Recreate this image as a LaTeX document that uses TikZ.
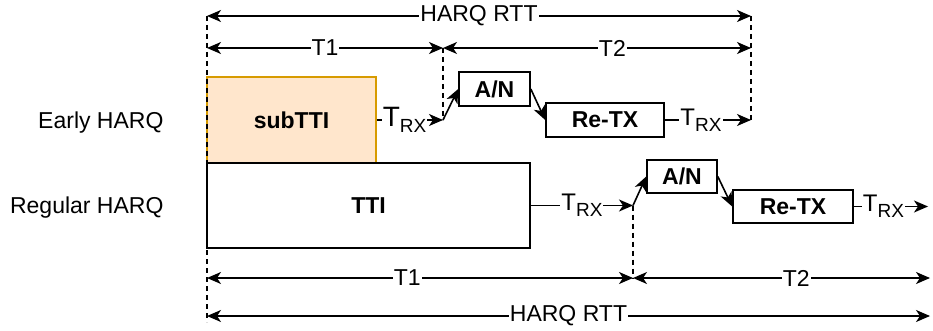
\documentclass[tikz,border=0pt]{standalone}
\usepackage{fontspec}
\setmainfont{Liberation Sans}
\usetikzlibrary{arrows.meta}

\definecolor{subfill}{HTML}{FFE6CC}
\definecolor{substroke}{HTML}{D79B00}

\newcommand{\trx}[1]{{\fontsize{#1}{27}\selectfont T}\raisebox{-6pt}{\fontsize{19}{20}\selectfont RX}}

\begin{document}
\begin{tikzpicture}[x=1pt, y=-1pt, font=\fontsize{23}{27}\selectfont,
		>={Stealth[length=14pt, width=12pt, inset=4pt]},
		box/.style={draw, line width=1.6pt, inner sep=0pt, font=\fontsize{23}{27}\selectfont\bfseries},
		link/.style={->, line width=1.6pt},
		span/.style={<->, line width=1.6pt},
		lbl/.style={fill=white, inner sep=1pt},
		guide/.style={line width=1.3pt, dash pattern=on 5pt off 4pt}]
		\useasboundingbox (0,0) rectangle (933,331);

		\node[box, fill=subfill, draw=substroke, minimum width=169, minimum height=86] (subtti) at (291.5,120) {subTTI};
		\node[box, minimum width=323, minimum height=85] (tti) at (368.5,205.5) {TTI};
		\node[box, minimum width=71, minimum height=34] (an1) at (494.5,89) {A/N};
		\node[box, minimum width=118, minimum height=34] (retx1) at (605,120) {Re-TX};
		\node[box, minimum width=70, minimum height=33] (an2) at (682,176.5) {A/N};
		\node[box, minimum width=120, minimum height=33] (retx2) at (793,206.5) {Re-TX};

		\node[anchor=east] (early) at (167,123) {Early HARQ};
		\node[anchor=east] (regular) at (167,208) {Regular HARQ};

		\coordinate (e1) at (443,120);
		\coordinate (e2) at (751,120);
		\coordinate (r1) at (633,205.5);
		\coordinate (r2) at (928,206.5);

		\coordinate (a0) at (207,16);
		\coordinate (a1) at (751,16);
		\coordinate (b0) at (207,48);
		\coordinate (b1) at (443,48);
		\coordinate (b2) at (751,48);
		\coordinate (c0) at (207,278);
		\coordinate (c1) at (633,278);
		\coordinate (c2) at (930,278);
		\coordinate (d0) at (207,316);
		\coordinate (d1) at (930,316);
		\coordinate (g0) at (207,322);

		\draw[guide] (a0) -- (g0);
		\draw[guide] (b1) -- (e1);
		\draw[guide] (a1) -- (e2);
		\draw[guide] (r1) -- (c1);

		\draw[span] (a0) -- node[lbl] {HARQ RTT} (a1);
		\draw[span] (b0) -- node[lbl] {T1} (b1);
		\draw[span] (b1) -- node[lbl, pos=0.55] {T2} (b2);
		\draw[span] (c0) -- node[lbl, pos=0.47] {T1} (c1);
		\draw[span] (c1) -- node[lbl, pos=0.55] {T2} (c2);
		\draw[span] (d0) -- node[lbl] {HARQ RTT} (d1);

		\draw[link] (subtti.east) -- node[lbl, pos=0.42] {\trx{28}} (e1);
		\draw[link] (e1) -- (an1.west);
		\draw[link] (an1.east) -- (retx1.west);
		\draw[link] (retx1.east) -- node[lbl, pos=0.42] {\trx{24}} (e2);

		\draw[link] (tti.east) -- node[lbl] {\trx{24}} (r1);
		\draw[link] (r1) -- (an2.west);
		\draw[link] (an2.east) -- (retx2.west);
		\draw[link] (retx2.east) -- node[lbl, pos=0.4] {\trx{24}} (r2);
	\end{tikzpicture}
\end{document}
